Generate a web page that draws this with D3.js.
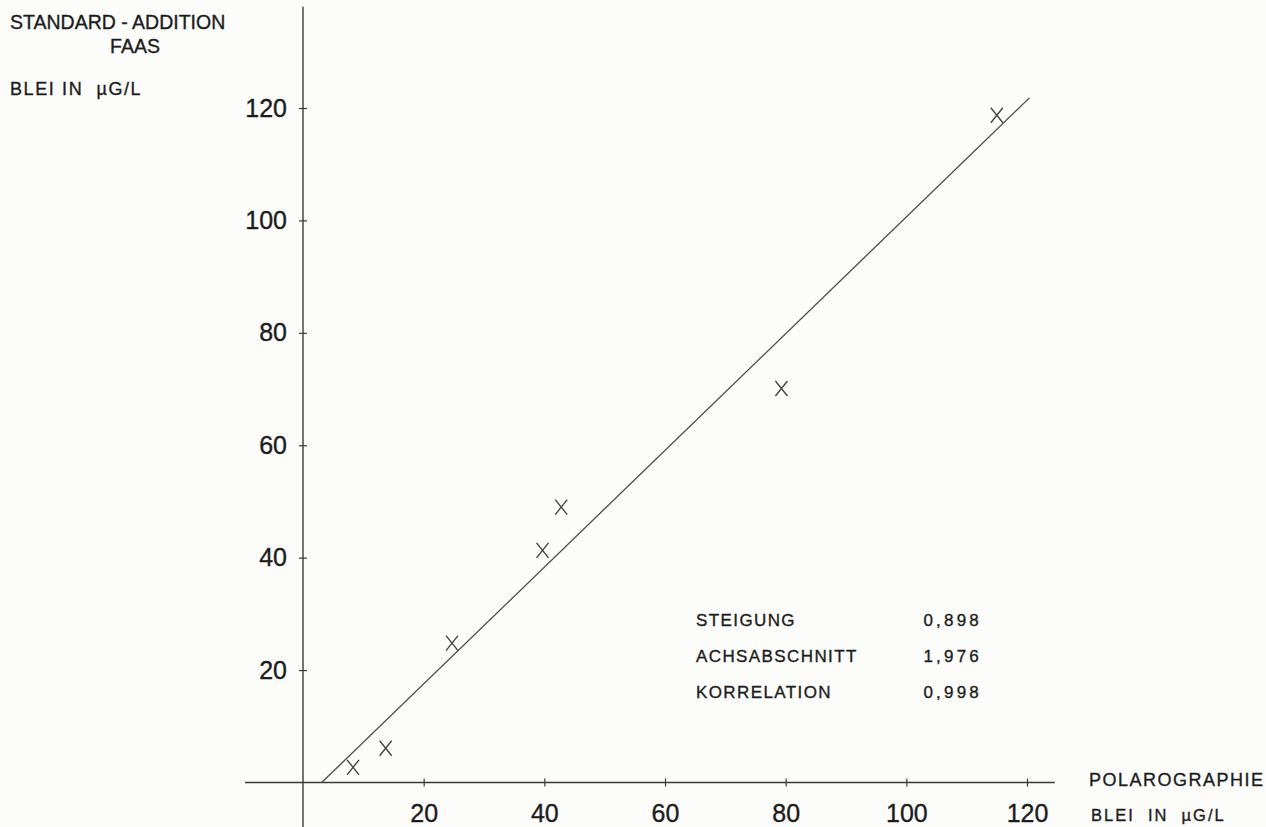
<!DOCTYPE html>
<html>
<head>
<meta charset="utf-8">
<script src="https://cdn.jsdelivr.net/npm/d3@7"></script>
<style>
  html, body { margin: 0; padding: 0; background: #fcfcfb; }
  svg { display: block; }
  text { font-family: "Liberation Sans", Arial, Helvetica, sans-serif; fill: #1c1c1c; stroke: #1c1c1c; stroke-width: 0.35px; }
</style>
</head>
<body>
<svg id="chart" width="1266" height="827"></svg>
<script>
// ---- data ----
const xTickValues = [20, 40, 60, 80, 100, 120];
const yTickValues = [20, 40, 60, 80, 100, 120];
const polarographie = [8.3, 13.7, 24.7, 39.7, 42.8, 79.3, 115.0];   // x: Blei in µg/L (Polarographie)
const faas          = [2.7, 6.1, 24.8, 41.3, 49.0, 70.1, 118.7];    // y: Blei in µg/L (Standard-Addition FAAS)
const fitX = [3.1, 120.4];
const fitY = [0, 121.8];
const statLabels = ["STEIGUNG", "ACHSABSCHNITT", "KORRELATION"];
const statValues = ["0,898", "1,976", "0,998"];

// ---- layout ----
const svg = d3.select("#chart");
const x = d3.scaleLinear().domain([0, 120]).range([303, 1027]);
const y = d3.scaleLinear().domain([0, 120]).range([782.5, 108]);
const ink = "#3a3a3a";

// axes lines (extended beyond data range as in the original)
svg.append("line")
  .attr("x1", x(-9.6)).attr("x2", x(124.6))
  .attr("y1", y(0)).attr("y2", y(0))
  .attr("stroke", ink).attr("stroke-width", 1.4);
svg.append("line")
  .attr("x1", x(0)).attr("x2", x(0))
  .attr("y1", y(138)).attr("y2", y(-8))
  .attr("stroke", ink).attr("stroke-width", 1.4);

// x axis ticks + labels
const xAxis = svg.append("g")
  .attr("transform", `translate(0,${y(0)})`)
  .call(d3.axisBottom(x).tickValues(xTickValues).tickSize(4).tickPadding(18).tickFormat(d3.format("d")));
xAxis.select(".domain").remove();
xAxis.selectAll(".tick line").attr("y1", -4).attr("stroke", ink).attr("stroke-width", 1.2);
xAxis.selectAll(".tick text")
  .attr("font-size", 25).attr("fill", "#1c1c1c")
  .attr("stroke", "#1c1c1c").attr("stroke-width", 0.7)
  .style("font-family", '"Liberation Sans", Arial, sans-serif');

// y axis ticks + labels
const yAxis = svg.append("g")
  .attr("transform", `translate(${x(0)},0)`)
  .call(d3.axisLeft(y).tickValues(yTickValues).tickSize(4).tickPadding(12).tickFormat(d3.format("d")));
yAxis.select(".domain").remove();
yAxis.selectAll(".tick line").attr("x1", 4).attr("stroke", ink).attr("stroke-width", 1.2);
yAxis.selectAll(".tick text")
  .attr("font-size", 25).attr("fill", "#1c1c1c")
  .attr("stroke", "#1c1c1c").attr("stroke-width", 0.7)
  .style("font-family", '"Liberation Sans", Arial, sans-serif');

// regression line
svg.append("line")
  .attr("x1", x(fitX[0])).attr("y1", y(fitY[0]))
  .attr("x2", x(fitX[1])).attr("y2", y(fitY[1]))
  .attr("stroke", "#4a4a4a").attr("stroke-width", 1.3);

// data points as X marks
const pts = polarographie.map((v, i) => ({ px: v, py: faas[i] }));
const hw = 6, hh = 7.5;
svg.append("g").selectAll("path").data(pts).join("path")
  .attr("d", d => {
    const cx = x(d.px), cy = y(d.py);
    return `M${cx - hw},${cy - hh}L${cx + hw},${cy + hh}M${cx + hw},${cy - hh}L${cx - hw},${cy + hh}`;
  })
  .attr("fill", "none").attr("stroke", "#444").attr("stroke-width", 1.4);

// axis titles
svg.append("text").attr("x", 10).attr("y", 29).attr("font-size", 19.5).text("STANDARD - ADDITION");
svg.append("text").attr("x", 135).attr("y", 53).attr("font-size", 19.5).attr("text-anchor", "middle").text("FAAS");
svg.append("text").attr("x", 10).attr("y", 95).attr("font-size", 18).attr("letter-spacing", 1.6).attr("xml:space", "preserve").text("BLEI IN  \u00B5G/L");

svg.append("text").attr("x", 1089).attr("y", 786).attr("font-size", 18).attr("letter-spacing", 1.5).text("POLAROGRAPHIE");
svg.append("text").attr("x", 1091).attr("y", 821).attr("font-size", 16.5).attr("xml:space", "preserve").attr("letter-spacing", 2).text("BLEI  IN  \u00B5G/L");

// statistics box
const statY = [626, 662, 698];
svg.append("g").selectAll("text.lab").data(statLabels).join("text")
  .attr("class", "lab")
  .attr("x", 696).attr("y", (d, i) => statY[i])
  .attr("font-size", 17).attr("letter-spacing", 1.4)
  .text(d => d);
svg.append("g").selectAll("text.val").data(statValues).join("text")
  .attr("class", "val")
  .attr("x", 982).attr("y", (d, i) => statY[i])
  .attr("font-size", 17).attr("letter-spacing", 3.2).attr("text-anchor", "end")
  .text(d => d);
</script>
</body>
</html>
